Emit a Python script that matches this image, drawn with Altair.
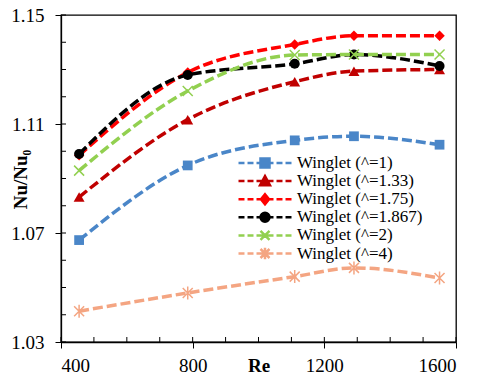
import altair as alt
import pandas as pd

# ---------------- data ----------------
re_vals = [455, 785, 1110, 1290, 1550]
series = ["Winglet (^=1)", "Winglet (^=1.33)", "Winglet (^=1.75)",
          "Winglet (^=1.867)", "Winglet (^=2)", "Winglet (^=4)"]
nu_1 = [1.0674, 1.0948, 1.1040, 1.1055, 1.1024]
nu_133 = [1.0832, 1.1116, 1.1255, 1.1294, 1.1300]
nu_175 = [1.0985, 1.1289, 1.1392, 1.1424, 1.1424]
nu_1867 = [1.0990, 1.1280, 1.1321, 1.1355, 1.1313]
nu_2 = [1.0929, 1.1221, 1.1353, 1.1355, 1.1355]
nu_4 = [1.0413, 1.0480, 1.0540, 1.0572, 1.0535]
values = [nu_1, nu_133, nu_175, nu_1867, nu_2, nu_4]

x_major = [400, 800, 1200, 1600]
y_major = [1.03, 1.07, 1.11, 1.15]
x_minor = [400, 500, 600, 700, 800, 900, 1000, 1100, 1200, 1300, 1400, 1500, 1600]
y_minor = [1.03, 1.04, 1.05, 1.06, 1.07, 1.08, 1.09, 1.10, 1.11, 1.12, 1.13, 1.14, 1.15]

# ---------------- styles ----------------
colors = ["#4A86C8", "#C00000", "#FF0000", "#000000", "#92D050", "#F4A582"]
SQ = "M-1,-1H1V1H-1Z"
TRI = "M0,-1.1L1.1,0.9H-1.1Z"
DIA = "M0,-1.1L0.9,0L0,1.1L-0.9,0Z"
XX = "M-1,-1L1,1M-1,1L1,-1"
AST = "M-1,-1L1,1M-1,1L1,-1M0,-1.3L0,1.3"
markers = [
    dict(shape="square", size=95, filled=True),
    dict(shape="triangle-up", size=120, filled=True),
    dict(shape="diamond", size=110, filled=True),
    dict(shape="circle", size=100, filled=True),
    dict(shape=XX, size=100, filled=False, strokeWidth=1.5),
    dict(shape=AST, size=100, filled=False, strokeWidth=1.5),
]

# legend symbols: dashed line + marker (units: +-1 = half symbol width)
dash = "M-1,0L-0.774,0M-0.66,0L-0.434,0M-0.321,0L0.321,0M0.434,0L0.66,0M0.774,0L1,0"
def scaled(p, k):
    out = []
    num = ""
    for ch in p:
        if ch in "-.0123456789":
            num += ch
        else:
            if num:
                out.append(f"{float(num)*k:.3f}")
                num = ""
            out.append(ch)
    if num:
        out.append(f"{float(num)*k:.3f}")
    return "".join(out)

k = 0.17
leg_paths = [
    dash + scaled(SQ, k),
    dash + scaled(TRI, k),
    dash + scaled(DIA, k),
    dash + "M-0.17,0A0.17,0.17,0,1,0,0.17,0A0.17,0.17,0,1,0,-0.17,0Z",
    dash + scaled(XX, k),
    dash + scaled(AST, k),
]

rows = []
for s, vals in zip(series, values):
    for r, v in zip(re_vals, vals):
        rows.append({"series": s, "Re": r, "val": v})
df = pd.DataFrame(rows)

FONT = "Times New Roman"
W, H = 395, 327

x_scale = alt.Scale(domain=[400, 1600], nice=False, zero=False)
y_scale = alt.Scale(domain=[1.03, 1.15], nice=False, zero=False)
x_axis = alt.Axis(values=x_major, format="d", title="Re", tickSize=6,
                  labelPadding=8, titleY=14.5, titleBaseline="top",
                  titleFontWeight="bold", grid=False,
                  labelFont=FONT, titleFont=FONT)
y_axis = alt.Axis(values=y_major, format=".2f", title="Nu/Nu₀", tickSize=6,
                  labelPadding=11, titleX=-41, titleY=164, titleAngle=-90,
                  titleAlign="center", titleBaseline="middle",
                  titleFontWeight="bold", grid=False,
                  labelFont=FONT, titleFont=FONT)
X = alt.X("Re:Q", scale=x_scale, axis=x_axis)
Y = alt.Y("val:Q", scale=y_scale, axis=y_axis)

layers = []
for s, c, m in zip(series, colors, markers):
    sub = df[df["series"] == s]
    line = alt.Chart(sub).mark_line(
        color=c, strokeWidth=3.5, strokeDash=[10, 4], interpolate="monotone"
    ).encode(x=X, y=Y)
    pt = alt.Chart(sub).mark_point(color=c, opacity=1, **m).encode(x=X, y=Y)
    layers += [line, pt]

# inside ticks
xt = pd.DataFrame({"Re": x_minor})
yt = pd.DataFrame({"val": y_minor})
xticks = alt.Chart(xt).mark_rule(color="black", strokeWidth=1).encode(
    x=X, y=alt.value(H), y2=alt.value(H - 5))
yticks = alt.Chart(yt).mark_rule(color="black", strokeWidth=1).encode(
    y=Y, x=alt.value(0), x2=alt.value(5))

legend_layer = alt.Chart(df).transform_filter("datum.Re < 0").mark_point(
    filled=True, opacity=1, size=2809, strokeWidth=2.5
).encode(
    x=X, y=Y,
    shape=alt.Shape("series:N", scale=alt.Scale(domain=series, range=leg_paths),
                    legend=alt.Legend(title=None, orient="none", legendX=176,
                                      legendY=139, clipHeight=18, rowPadding=0.1,
                                      symbolSize=2809, symbolStrokeWidth=2.5,
                                      symbolOpacity=1, labelOffset=4, padding=0,
                                      labelFont=FONT, labelFontSize=17,
                                      labelColor="black", labelLimit=300)),
    stroke=alt.Stroke("series:N", scale=alt.Scale(domain=series, range=colors)),
    fill=alt.Fill("series:N", scale=alt.Scale(domain=series, range=colors)),
)

chart = alt.layer(*layers, xticks, yticks, legend_layer).properties(
    width=W, height=H,
    autosize=alt.AutoSizeParams(type="none"),
    padding={"left": 53, "top": 7, "right": 16, "bottom": 36},
).configure(
    font=FONT
).configure_view(
    stroke="black", strokeWidth=1.3
).configure_axis(
    labelFont=FONT, labelFontSize=19, labelColor="black",
    titleFont=FONT, titleFontSize=19, titleColor="black",
    domainColor="black", domainWidth=1.3, tickColor="black", tickWidth=1
).configure_legend(
    labelFont=FONT
)

chart.save("out.html", embed_options={"renderer": "svg", "actions": False})
